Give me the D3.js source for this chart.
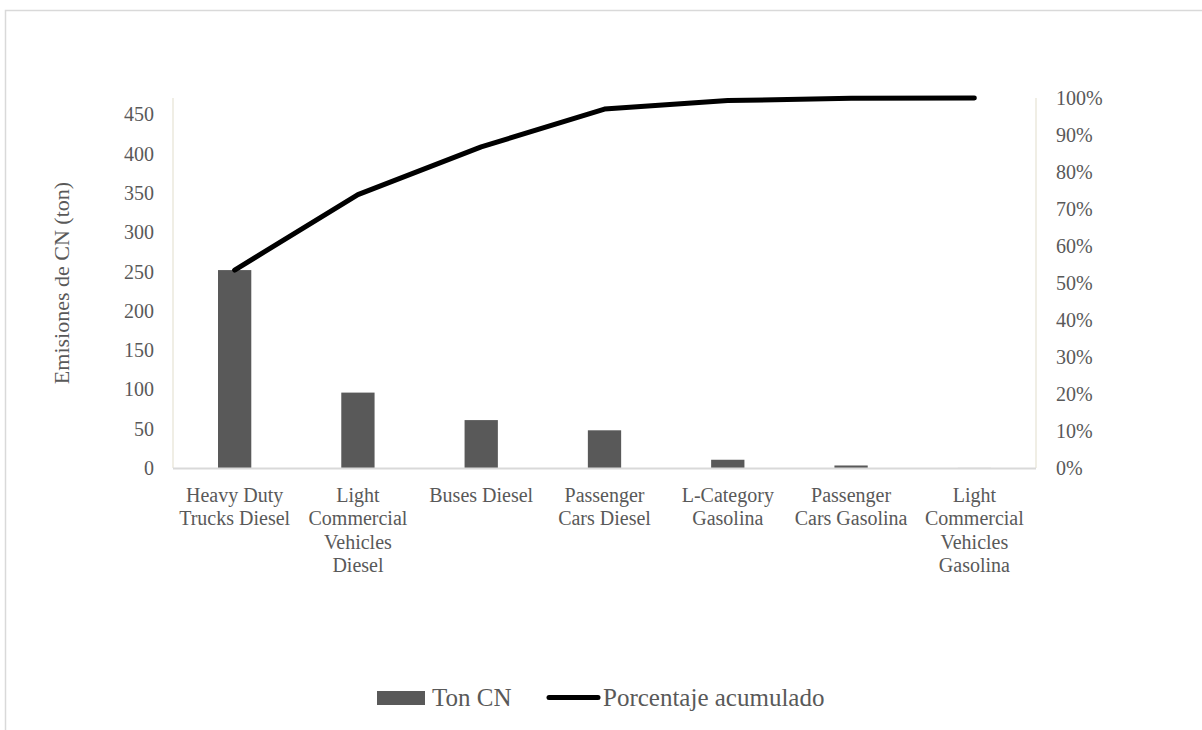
<!DOCTYPE html>
<html>
<head>
<meta charset="utf-8">
<script src="https://cdn.jsdelivr.net/npm/d3@7"></script>
<style>
  html, body { margin: 0; padding: 0; background: #fff; }
  svg { display: block; }
  svg text { font-family: "Liberation Serif", "Times New Roman", serif !important; fill: #595959; }
</style>
</head>
<body>
<svg id="chart" width="1202" height="730"></svg>
<script>
// ---- data ----
const categories = [
  "Heavy Duty Trucks Diesel",
  "Light Commercial Vehicles Diesel",
  "Buses Diesel",
  "Passenger Cars Diesel",
  "L-Category Gasolina",
  "Passenger Cars Gasolina",
  "Light Commercial Vehicles Gasolina"
];
const tonCN = [252, 96, 61, 48, 10.5, 3.2, 0.1];
const cumulativePct = [0.535, 0.739, 0.868, 0.970, 0.993, 0.999, 1.0];
const leftTicks = [0, 50, 100, 150, 200, 250, 300, 350, 400, 450];
const rightTicks = [0, 0.1, 0.2, 0.3, 0.4, 0.5, 0.6, 0.7, 0.8, 0.9, 1.0];
const leftMax = 471.1;
const seriesNames = ["Ton CN", "Porcentaje acumulado"];
const yTitle = "Emisiones de CN (ton)";

// ---- layout ----
const FONT = '"Liberation Serif", "Times New Roman", serif';
const svg = d3.select("#chart");
const m = { left: 173, right: 1036, top: 98, bottom: 468 };
const barColor = "#595959";
const textColor = "#595959";

// chart border
svg.append("rect")
  .attr("x", 5.5).attr("y", 10.5)
  .attr("width", 1202).attr("height", 730)
  .attr("fill", "none").attr("stroke", "#d9d9d9").attr("stroke-width", 1.5);

const x = d3.scaleBand().domain(categories).range([m.left, m.right]).paddingInner(0).paddingOuter(0);
const yL = d3.scaleLinear().domain([0, leftMax]).range([m.bottom, m.top]);
const yR = d3.scaleLinear().domain([0, 1]).range([m.bottom, m.top]);

// left / right axis lines
svg.append("line")
  .attr("x1", m.left).attr("x2", m.left).attr("y1", m.top).attr("y2", m.bottom)
  .attr("stroke", "#ebe8dd").attr("stroke-width", 1.5);
svg.append("line")
  .attr("x1", m.right).attr("x2", m.right).attr("y1", m.top).attr("y2", m.bottom)
  .attr("stroke", "#ebe8dd").attr("stroke-width", 1.5);

// left axis
const leftAxis = d3.axisLeft(yL).tickValues(leftTicks).tickSize(0).tickPadding(19).tickFormat(d3.format("d"));
const gL = svg.append("g").attr("transform", `translate(${m.left},0)`).call(leftAxis)
  .attr("font-family", null).attr("font-size", null);
gL.select(".domain").remove();
gL.selectAll("text").style("font-size", "20px").style("font-family", FONT).style("fill", textColor);

// right axis
const rightAxis = d3.axisRight(yR).tickValues(rightTicks).tickSize(0).tickPadding(20).tickFormat(d3.format(".0%"));
const gR = svg.append("g").attr("transform", `translate(${m.right},0)`).call(rightAxis)
  .attr("font-family", null).attr("font-size", null);
gR.select(".domain").remove();
gR.selectAll("text").style("font-size", "20px").style("font-family", FONT).style("fill", textColor);

// bars
const barW = x.bandwidth() * 0.27;
svg.append("g").selectAll("rect")
  .data(tonCN)
  .join("rect")
  .attr("x", (d, i) => x(categories[i]) + x.bandwidth() / 2 - barW / 2)
  .attr("y", d => yL(d))
  .attr("width", barW)
  .attr("height", d => m.bottom - yL(d))
  .attr("fill", barColor);

// bottom axis line
svg.append("line")
  .attr("x1", m.left).attr("x2", m.right).attr("y1", m.bottom + 0.5).attr("y2", m.bottom + 0.5)
  .attr("stroke", "#d9d9d9").attr("stroke-width", 2);

// category labels (wrapped)
const bottomAxis = d3.axisBottom(x).tickSize(0).tickPadding(0);
const gB = svg.append("g").attr("transform", `translate(0,${m.bottom})`).call(bottomAxis)
  .attr("font-family", null).attr("font-size", null);
gB.select(".domain").remove();
gB.selectAll("text")
  .style("font-size", "20px")
  .style("font-family", FONT)
  .style("fill", textColor)
  .attr("y", 0).attr("dy", null)
  .each(function (d) {
    const t = d3.select(this);
    const words = d.split(" ");
    t.text(null);
    const lines = [];
    let cur = [];
    const tmp = t.append("tspan");
    words.forEach(w => {
      const test = cur.concat([w]).join(" ");
      tmp.text(test);
      if (cur.length && tmp.node().getComputedTextLength() > 116) {
        lines.push(cur.join(" "));
        cur = [w];
      } else {
        cur.push(w);
      }
    });
    lines.push(cur.join(" "));
    tmp.remove();
    lines.forEach((ln, i) => {
      t.append("tspan").attr("x", 0).attr("y", 34 + i * 23.3).text(ln);
    });
  });

// cumulative line
const line = d3.line()
  .x((d, i) => x(categories[i]) + x.bandwidth() / 2)
  .y(d => yR(d));
svg.append("path")
  .datum(cumulativePct)
  .attr("d", line)
  .attr("fill", "none")
  .attr("stroke", "#000")
  .attr("stroke-width", 5)
  .attr("stroke-linecap", "round")
  .attr("stroke-linejoin", "round");

// y axis title
svg.append("text")
  .attr("transform", `translate(69,${(m.top + m.bottom) / 2}) rotate(-90)`)
  .attr("text-anchor", "middle")
  .style("font-size", "22px")
  .style("font-family", FONT)
  .style("fill", textColor)
  .text(yTitle);

// legend
const lg = svg.append("g");
lg.append("rect").attr("x", 377).attr("y", 691).attr("width", 48).attr("height", 14).attr("fill", barColor);
lg.append("text").attr("x", 432).attr("y", 706).style("font-size", "25px").style("font-family", FONT)
  .style("fill", textColor).text(seriesNames[0]);
lg.append("line").attr("x1", 549).attr("x2", 598).attr("y1", 697.5).attr("y2", 697.5)
  .attr("stroke", "#000").attr("stroke-width", 5).attr("stroke-linecap", "round");
lg.append("text").attr("x", 603).attr("y", 706).style("font-size", "25px").style("font-family", FONT)
  .style("fill", textColor).text(seriesNames[1]);
</script>
</body>
</html>
